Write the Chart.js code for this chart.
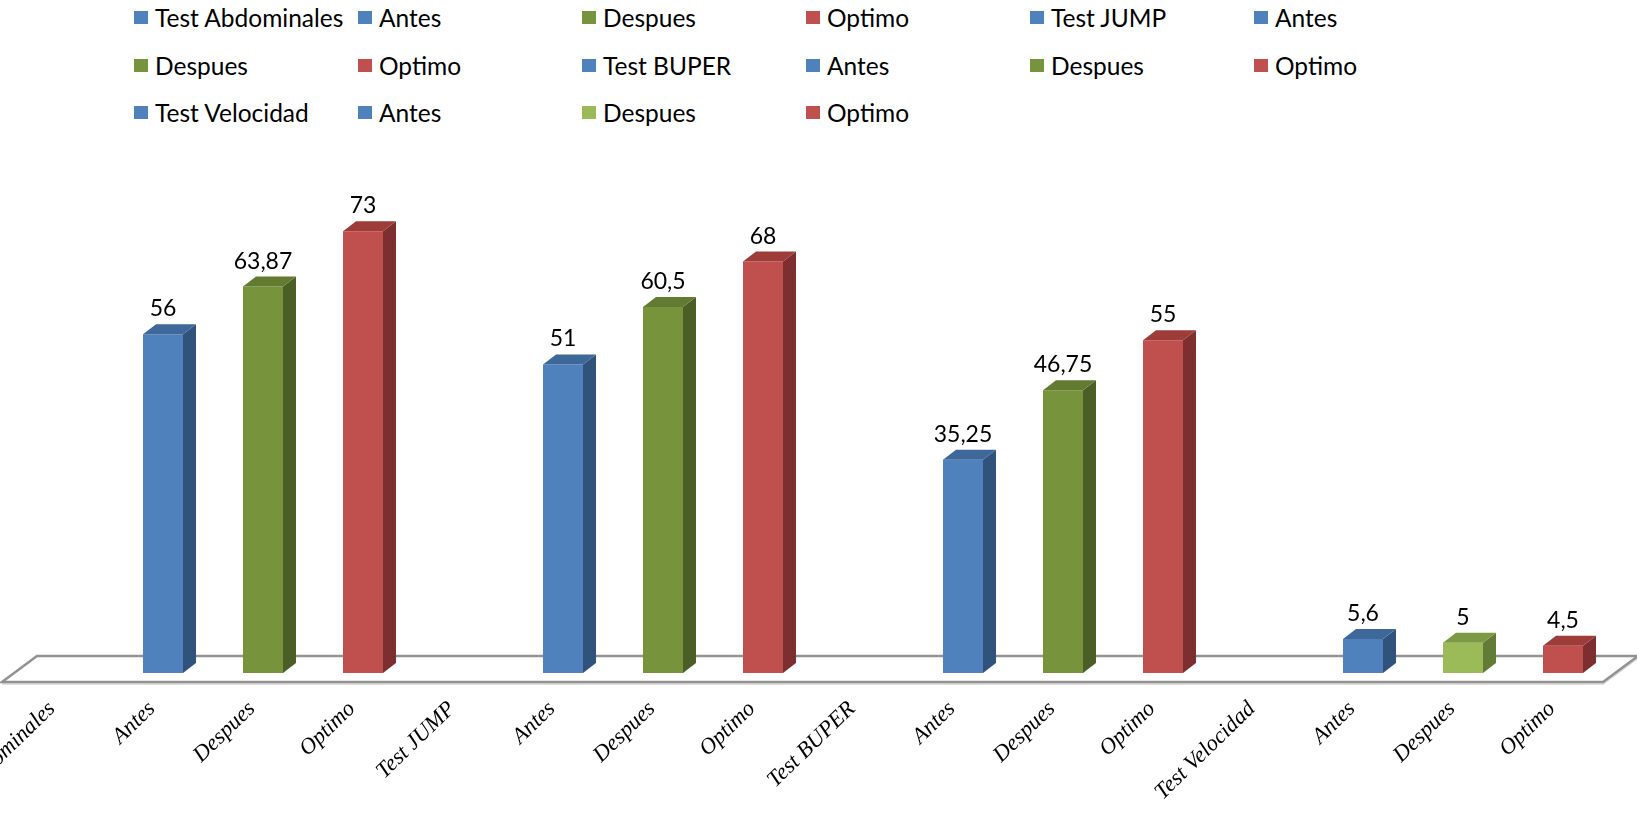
<!DOCTYPE html>
<html lang="es">
<head>
<meta charset="UTF-8">
<title>Test Abdominales, JUMP, BUPER y Velocidad</title>
<script src="https://cdn.jsdelivr.net/npm/chart.js"></script>
<style>
  html, body { margin: 0; padding: 0; background: #fff; overflow: hidden; }
  body { width: 1637px; height: 824px; position: relative; }
  #legend {
    position: absolute; left: 134px; top: -6px;
    display: grid; grid-template-columns: repeat(6, 224px); grid-auto-rows: 47.5px;
    font-family: Lato, sans-serif; font-size: 24.5px; color: #000;
  }
  .item { display: flex; align-items: center; white-space: nowrap; }
  .box { width: 14px; height: 13px; margin-right: 7px; flex: none; }
  #chart { position: absolute; left: -100px; top: 0; }
</style>
</head>
<body>
<div id="legend"></div>
<canvas id="chart" width="1737" height="824"></canvas>
<script>
const categories = ['Test Abdominales', 'Antes', 'Despues', 'Optimo',
                    'Test JUMP', 'Antes', 'Despues', 'Optimo',
                    'Test BUPER', 'Antes', 'Despues', 'Optimo',
                    'Test Velocidad', 'Antes', 'Despues', 'Optimo'];
const values = [null, 56, 63.87, 73,
                null, 51, 60.5, 68,
                null, 35.25, 46.75, 55,
                null, 5.6, 5, 4.5];
const colorKeys = ['blue', 'blue', 'green', 'red',
                   'blue', 'blue', 'green', 'red',
                   'blue', 'blue', 'green', 'red',
                   'blue', 'blue', 'lime', 'red'];

// front / top / side shades of each colour
const palette = {
    blue:  { front: '#4F81BD', top: '#3D6899', side: '#30527B' },
    green: { front: '#77933C', top: '#627B31', side: '#4A5E26' },
    lime:  { front: '#9BBB59', top: '#7C9A45', side: '#627B36' },
    red:   { front: '#C0504D', top: '#9E3C3A', side: '#7C2F2E' }
};

// html legend, one entry per category
const legendEl = document.getElementById('legend');
categories.forEach((name, i) => {
    const item = document.createElement('div');
    item.className = 'item';
    const box = document.createElement('span');
    box.className = 'box';
    box.style.background = palette[colorKeys[i]].front;
    item.appendChild(box);
    item.appendChild(document.createTextNode(name));
    legendEl.appendChild(item);
});

const DX = 13, DY = -10;   // bar depth

const floorPlugin = {
    id: 'floor3d',
    beforeDatasetsDraw(chart) {
        const { ctx, chartArea: a } = chart;
        const yf = a.bottom + 9, yb = a.bottom - 17;
        const xl = a.left - 11, xr = a.right - 10;
        ctx.save();
        ctx.beginPath();
        ctx.moveTo(xl, yf + 2);
        ctx.lineTo(xr, yf + 2);
        ctx.lineTo(xr + 35, yb + 2);
        ctx.strokeStyle = '#D4D4D4';
        ctx.lineWidth = 1.5;
        ctx.stroke();
        ctx.beginPath();
        ctx.moveTo(xl, yf);
        ctx.lineTo(xr, yf);
        ctx.lineTo(xr + 35, yb);
        ctx.lineTo(xl + 35, yb);
        ctx.closePath();
        ctx.fillStyle = '#fff';
        ctx.fill();
        ctx.strokeStyle = '#929292';
        ctx.lineWidth = 2.5;
        ctx.lineJoin = 'miter';
        ctx.stroke();
        ctx.restore();
    }
};

const barsPlugin = {
    id: 'bars3d',
    afterDatasetsDraw(chart) {
        const ctx = chart.ctx;
        const meta = chart.getDatasetMeta(0);
        ctx.save();
        meta.data.forEach((bar, i) => {
            if (values[i] == null) return;
            const { x, y, base, width } = bar.getProps(['x', 'y', 'base', 'width'], true);
            const l = x - width / 2, r = x + width / 2;
            const c = palette[colorKeys[i]];
            ctx.fillStyle = c.side;
            ctx.beginPath();
            ctx.moveTo(r, y); ctx.lineTo(r + DX, y + DY);
            ctx.lineTo(r + DX, base + DY); ctx.lineTo(r, base);
            ctx.closePath(); ctx.fill();
            ctx.fillStyle = c.top;
            ctx.beginPath();
            ctx.moveTo(l, y); ctx.lineTo(l + DX, y + DY);
            ctx.lineTo(r + DX, y + DY); ctx.lineTo(r, y);
            ctx.closePath(); ctx.fill();

            ctx.fillStyle = '#000';
            ctx.font = '23px Lato, sans-serif';
            ctx.textAlign = 'center';
            ctx.textBaseline = 'alphabetic';
            ctx.fillText(String(values[i]).replace('.', ','), x, y - 18);
        });
        ctx.restore();
    }
};

const ctx = document.getElementById('chart').getContext('2d');
new Chart(ctx, {
    type: 'bar',
    data: {
        labels: categories,
        datasets: [{
            data: values,
            backgroundColor: colorKeys.map(k => palette[k].front),
            barPercentage: 0.4,
            categoryPercentage: 1
        }]
    },
    options: {
        responsive: false,
        animation: false,
        layout: { padding: { left: 113, right: 24, top: 189, bottom: 0 } },
        plugins: {
            legend: { display: false },
            tooltip: { enabled: false }
        },
        scales: {
            x: {
                grid: { display: false, drawTicks: false },
                border: { display: false },
                ticks: {
                    autoSkip: false,
                    minRotation: 44,
                    maxRotation: 44,
                    padding: 23,
                    labelOffset: -11,
                    color: '#000',
                    font: { family: 'Liberation Serif', style: 'italic', size: 22.5 }
                },
                afterFit(scale) { scale.height = 151; }
            },
            y: { display: false, min: 0, max: 80 }
        }
    },
    plugins: [floorPlugin, barsPlugin]
});
</script>
</body>
</html>
